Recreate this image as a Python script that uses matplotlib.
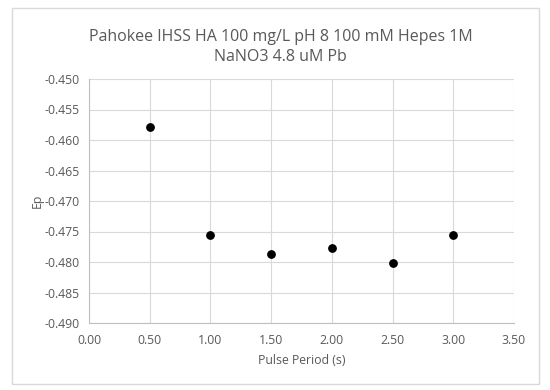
import matplotlib.pyplot as plt
from matplotlib.patches import Rectangle

# Data
pulse_period = [0.5, 1.0, 1.5, 2.0, 2.5, 3.0]
ep = [-0.4578, -0.4756, -0.4787, -0.4777, -0.4802, -0.4756]

x_ticks = [0.0, 0.5, 1.0, 1.5, 2.0, 2.5, 3.0, 3.5]
y_ticks = [-0.490, -0.485, -0.480, -0.475, -0.470, -0.465, -0.460, -0.455, -0.450]

title = 'Pahokee IHSS HA 100 mg/L pH 8 100 mM Hepes 1M\nNaNO3 4.8 uM Pb'

plt.rcParams['font.family'] = ['Open Sans', 'DejaVu Sans']
text_color = '#595959'
grid_color = '#d9d9d9'

fig = plt.figure(figsize=(5.5, 3.9), dpi=100)
fig.patches.append(Rectangle((12 / 550, 6 / 390), 527 / 550, 376 / 390,
                             transform=fig.transFigure, fill=False,
                             edgecolor=grid_color, linewidth=1))

ax = fig.add_axes([89 / 550, 67 / 390, 425 / 550, 244 / 390])
ax.scatter(pulse_period, ep, s=28, color='black', zorder=3)

ax.set_xlim(0, 3.5)
ax.set_ylim(-0.490, -0.450)
ax.set_xticks(x_ticks)
ax.set_yticks(y_ticks)
ax.set_xticklabels([f'{v:.2f}' for v in x_ticks])
ax.set_yticklabels([f'{v:.3f}' for v in y_ticks])
ax.tick_params(length=0, labelsize=8.8, labelcolor=text_color)
ax.tick_params(axis='x', pad=8)
ax.tick_params(axis='y', pad=7)
ax.grid(True, color=grid_color, linewidth=0.8)
ax.set_axisbelow(True)
for side in ['top', 'right']:
    ax.spines[side].set_visible(False)
for side in ['left', 'bottom']:
    ax.spines[side].set_color('#bfbfbf')
    ax.spines[side].set_linewidth(0.8)

ax.set_xlabel('Pulse Period (s)', fontsize=8.8, color=text_color, labelpad=5)
ax.set_ylabel('Ep', fontsize=8.8, color=text_color, labelpad=0)

fig.text(0.51, 0.88, title, ha='center', va='center', fontsize=11.5,
         color=text_color, linespacing=1.3)

fig.savefig('out.png', dpi=100)
